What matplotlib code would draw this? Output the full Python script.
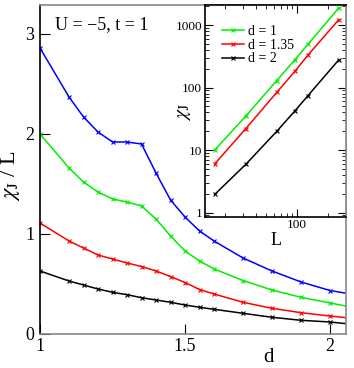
import matplotlib
matplotlib.use("Agg")
import matplotlib.pyplot as plt
import matplotlib.transforms as mtrans
from matplotlib.ticker import FixedLocator, NullFormatter, FuncFormatter, LogLocator

plt.rcParams['font.family'] = ['Liberation Serif', 'DejaVu Serif']
plt.rcParams['mathtext.fontset'] = 'stix'

# Main panel: chi_J / L versus d
d = [1.0, 1.1, 1.15, 1.2, 1.25, 1.3, 1.35, 1.4, 1.45, 1.5, 1.55, 1.6, 1.7, 1.8, 1.9, 2.0, 2.1]
blue = [2.86, 2.37, 2.17, 2.02, 1.92, 1.92, 1.90, 1.61, 1.34, 1.17, 1.03, 0.93, 0.76, 0.63, 0.52, 0.435, 0.385]
green = [2.00, 1.66, 1.52, 1.42, 1.35, 1.32, 1.28, 1.15, 0.98, 0.83, 0.73, 0.65, 0.535, 0.44, 0.367, 0.31, 0.255]
red = [1.11, 0.93, 0.86, 0.79, 0.75, 0.71, 0.675, 0.63, 0.575, 0.515, 0.445, 0.40, 0.317, 0.257, 0.213, 0.18, 0.15]
black = [0.63, 0.53, 0.49, 0.45, 0.417, 0.393, 0.363, 0.34, 0.317, 0.29, 0.267, 0.247, 0.207, 0.167, 0.137, 0.12, 0.09]

# Inset: chi_J versus L (log-log)
L = [16, 32, 64, 96, 128, 256]
chi_d1 = [10, 35, 130, 280, 490, 1900]
chi_d135 = [6.0, 22, 84, 183, 330, 1230]
chi_d2 = [1.95, 5.9, 20, 42.5, 74, 280]

fig = plt.figure(figsize=(3.54, 3.68), dpi=100)
ax = fig.add_axes([40/354, 1-334/368, 306/354, 329/368])

lw = 1.1
ms = 3.5
for y, c in [(blue, '#0000ff'), (green, '#00ee00'), (red, '#ff0000'), (black, '#000000')]:
    ax.plot(d, y, color=c, lw=lw, marker='x', ms=ms, mew=0.8)

ax.set_xlim(1.0, 2.055)
ax.set_ylim(0, 3.29)
ax.set_xticks([1, 1.5, 2])
ax.set_xticklabels(['1', '1.5', '2'])
ax.set_yticks([0, 1, 2, 3])
ax.set_yticklabels(['0', '1', '2', '3'])
ax.tick_params(direction='in', length=7, width=0.8, labelsize=13, pad=3)
ax.tick_params(axis='y', pad=4)
ax.spines['left'].set_color('black')
for s in ['bottom', 'right', 'top']:
    ax.spines[s].set_color('#888888')
for s in ax.spines.values():
    s.set_linewidth(1.2)
ax.set_xlabel('d', fontsize=15)
ax.xaxis.set_label_coords((269-40)/306, (334-348)/329)
ax.set_ylabel(r'$\chi_{\rm J}$ / L', fontsize=16)
ax.yaxis.set_label_coords((22-40)/306, (334-176)/329)
pix = mtrans.Affine2D().scale(1, -1).translate(0, 368)
ax.text(55, 25, 'U = \u22125, t = 1', fontsize=13, transform=pix, va='center')

# Inset
ins = fig.add_axes([205/354, 1-216.7/368, 141/354, 211.7/368])
ins.plot(L, chi_d1, color='#00ee00', lw=lw, marker='x', ms=ms, mew=0.8, label='d = 1')
ins.plot(L, chi_d135, color='#ff0000', lw=lw, marker='x', ms=ms, mew=0.8, label='d = 1.35')
ins.plot(L, chi_d2, color='#000000', lw=lw, marker='x', ms=ms, mew=0.8, label='d = 2')
ins.set_xscale('log')
ins.set_yscale('log')
ins.set_xlim(12.9, 300)
ins.set_ylim(0.86, 2100)
ins.xaxis.set_major_locator(FixedLocator([100]))
ins.xaxis.set_minor_locator(FixedLocator([20, 30, 40, 50, 60, 70, 80, 90, 200]))
ins.xaxis.set_major_formatter(FuncFormatter(lambda v, p: '%d' % v))
ins.xaxis.set_minor_formatter(NullFormatter())
ins.yaxis.set_major_locator(FixedLocator([1, 10, 100, 1000]))
ins.yaxis.set_minor_locator(LogLocator(base=10, subs=range(2, 10)))
ins.yaxis.set_major_formatter(FuncFormatter(lambda v, p: '%d' % v))
ins.yaxis.set_minor_formatter(NullFormatter())
ins.tick_params(which='both', direction='in', top=True, right=True, labelsize=9.5, pad=2)
ins.tick_params(which='major', length=5.5, width=0.8)
ins.tick_params(which='minor', length=3, width=0.6)
for s in ins.spines.values():
    s.set_linewidth(1.2)
ins.spines['right'].set_color('#888888')
ins.set_xlabel('L', fontsize=13, labelpad=0)
ins.xaxis.set_label_coords((275.7-205)/141, (216.7-232)/211.7)
ins.set_ylabel(r'$\chi_{\rm J}$', fontsize=14)
ins.yaxis.set_label_coords((193-205)/141, (216.7-112)/211.7)
ins.legend(loc='upper left', bbox_to_anchor=((222-205)/141, (216.7-25)/211.7),
           frameon=False, fontsize=10, handlelength=1.6, handletextpad=0.3,
           labelspacing=0.05, borderpad=0, borderaxespad=0)

fig.savefig('out.png', dpi=100)
